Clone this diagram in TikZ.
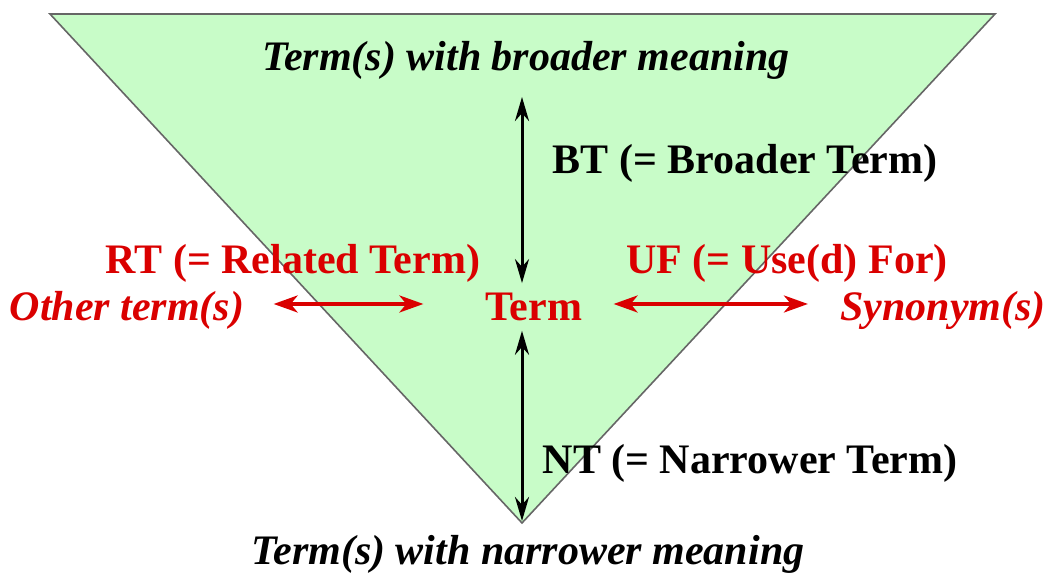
\documentclass[tikz,border=0pt]{standalone}
\usepackage{fontspec}
\setmainfont{Liberation Serif}
\usetikzlibrary{arrows.meta, positioning}
\definecolor{AreaColor}{RGB}{200, 252, 200}
\definecolor{RelColor}{RGB}{218, 0, 0}

\begin{document}
\begin{tikzpicture}[
    x=0.5pt, y=0.5pt, % one unit = one pixel of the sketch
    font=\fontsize{21}{25}\selectfont\bfseries,
    txt/.style={inner sep=0pt, anchor=base},
    slanted/.style={txt, font=\fontsize{21}{25}\selectfont\bfseries\itshape},
    vline/.style={{Stealth[length=12pt, width=7pt]}-{Stealth[length=12pt, width=7pt]}, black, line width=1.5pt},
    hline/.style={{Stealth[length=12pt, width=8.5pt, inset=3.5pt]}-{Stealth[length=12pt, width=8.5pt, inset=3.5pt]}, RelColor, line width=1.8pt}
]
\useasboundingbox (0,0) rectangle (1051,576);

% --- Inverted triangle ---
\coordinate (apex) at (522,53);
\draw[fill=AreaColor, draw=black!60, line width=0.8pt] (50,562) -- (995,562) -- (apex) -- cycle;

% --- Hierarchy labels (black) ---
\node[slanted] (broader) at (526,505) {Term(s) with broader meaning};
\node[txt] (bt) at (745,402) {BT (= Broader Term)};
\node[txt] (nt) at (750,102) {NT (= Narrower Term)};
\node[slanted] (narrower) at (528,11) {Term(s) with narrower meaning};

% --- The term and its neighbours (red) ---
\node[txt, RelColor] (term) at (534,255) {Term};
\node[slanted, RelColor] (other) at (127,255) {Other term(s)};
\node[slanted, RelColor] (synonym) at (943,255) {Synonym(s)};
\node[txt, RelColor] (rt) at (293,302) {RT (= Related Term)};
\node[txt, RelColor] (uf) at (787,302) {UF (= Use(d) For)};

% --- Arrows ---
\draw[vline, shorten <=13pt, shorten >=5pt] (broader.base -| apex) -- (term.north -| apex);
\draw[vline, shorten <=4.5pt, shorten >=1pt] (term.south -| apex) -- (apex);
\draw[hline, shorten <=14.5pt, shorten >=31pt] ([yshift=8.5pt]other.base east) -- ([yshift=8.5pt]term.base west);
\draw[hline, shorten <=15.5pt, shorten >=16pt] ([yshift=8.5pt]term.base east) -- ([yshift=8.5pt]synonym.base west);

\end{tikzpicture}
\end{document}
